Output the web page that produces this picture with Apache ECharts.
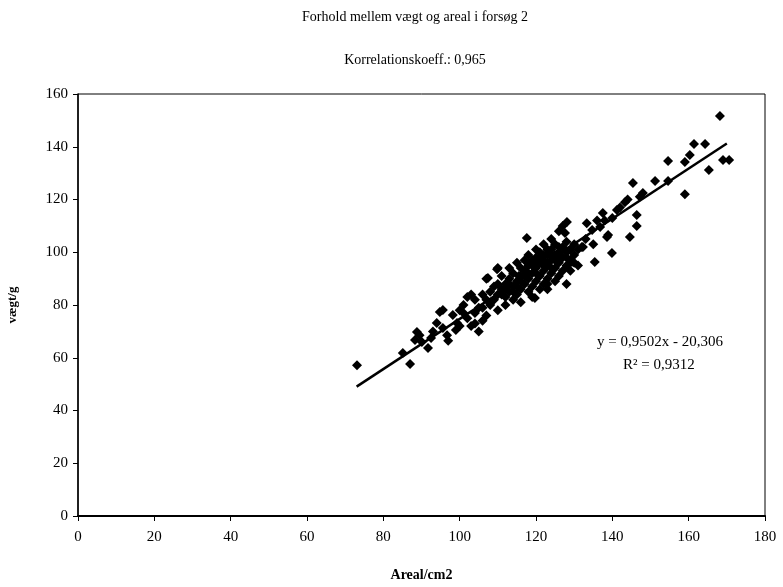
<!DOCTYPE html>
<html>
<head>
<meta charset="utf-8">
<script src="https://cdn.jsdelivr.net/npm/echarts@6/dist/echarts.min.js"></script>
<style>html,body{margin:0;padding:0;background:#fff}#c{width:783px;height:587px}</style>
</head>
<body>
<div id="c"></div>
<script>
const titleText = "Forhold mellem vægt og areal i forsøg 2";
const subtitleText = "Korrelationskoeff.: 0,965";
const xAxisName = "Areal/cm2";
const yAxisName = "vægt/g";
const equationText = "y = 0,9502x - 20,306";
const r2Text = "R² = 0,9312";
const slope = 0.9502;
const intercept = -20.306;
const trendRange = [73, 170];

const lowPoints = [
  [73.1,57.2],[85.1,61.8],[87.0,57.6],[88.3,66.7],[88.8,69.8],[90.1,66],[91.7,63.7],
  [94,73.2],[94.8,77.3],[95.6,71.3],[97,66.4],[98.2,76.2],[99.3,73.2],[95.6,78.1],
  [89.5,68.5],[92.5,67.5],[99,70.5],[100,72],[96.7,68.5],[93,70]
];
const midLowPoints = [
  [100,78],[101,80],[102,75],[103,72],[104,82],[105,79],[106,84],[107,76],[108,85],
  [103,84],[105,70],[106,74],[108,80],[109,82],[110,78],[107,90],[110,94],[101,77],
  [104,77],[102,83],[106,79],[109,87],[104,73],[107,82]
];
const densePoints = [
  [110,84],[110,88],[111,86],[111,91],[112,83],[112,88],[112,80],[113,85],[113,90],[113,94],
  [114,82],[114,87],[114,92],[115,84],[115,89],[115,96],[116,86],[116,91],[116,94],[116,81],
  [117,88],[117,93],[117,97],[118,85],[118,90],[118,95],[118,99],[119,87],[119,92],[119,97],
  [119,83],[120,89],[120,94],[120,98],[120,101],[121,86],[121,91],[121,96],[121,100],[122,88],
  [122,93],[122,97],[122,103],[123,90],[123,95],[123,99],[123,86],[124,92],[124,97],[124,101],
  [124,105],[125,89],[125,94],[125,99],[125,103],[126,91],[126,96],[126,100],[126,108],[127,93],
  [127,98],[127,102],[127,110],[128,95],[128,100],[128,104],[128,88],[129,97],[129,101],[129,93],
  [130,99],[130,103],[130,96],[131,101],[131,95],[132,102],[119.7,82.7],[117.6,105.4],[109.8,93.6],
  [107.4,90.2],[128.1,111.5],[127.6,107.3],[115.5,91],[129.4,96.3],[123,88],[111,84],[113,88],
  [115,87],[117,91],[119,95],[121,98],[123,101],[125,97],[120,92],[122,95],[124,94],[126,98],
  [118,92],[116,89],[114,85],[112,86],[120,96],[122,99],[124,99],[126,102],[128,98]
];
const highPoints = [
  [132.3,102],[133.3,111],[134.7,108.4],[136.8,109.6],[137.5,114.9],[138.6,105.8],[139.9,99.7],
  [135.4,96.3],[138,112],[138.9,106.5],[141.2,116],[143.3,119],[144.6,105.8],[146.4,114.1],
  [146.4,110],[145.4,126.3],[147.2,121],[148,122.5],[151.2,127],[154.6,127],[154.6,134.6],
  [159,122],[159,134.2],[160.3,136.9],[161.4,141],[164.3,141],[165.3,131.2],[168.2,151.7],
  [169,135],[170.6,135],[133,105],[135,103],[140,113],[142,117],[144,120],[136,112]
];
const xTicks = [0,20,40,60,80,100,120,140,160,180];
const yTicks = [0,20,40,60,80,100,120,140,160];

const allPoints = lowPoints.concat(midLowPoints, densePoints, highPoints);
const trendData = trendRange.map(x => [x, slope * x + intercept]);

const serif = "'Liberation Serif','DejaVu Serif',serif";
const chart = echarts.init(document.getElementById('c'));
chart.setOption({
  backgroundColor: '#fff',
  animation: false,
  title: [
    {text: titleText, left: 410, top: 5, textAlign: 'center',
     textStyle: {fontFamily: serif, fontSize: 14, fontWeight: 'normal', color: '#000'}},
    {text: subtitleText, left: 410, top: 48, textAlign: 'center',
     textStyle: {fontFamily: serif, fontSize: 14, fontWeight: 'normal', color: '#000'}}
  ],
  grid: {left: 78, right: 18, top: 94, bottom: 71, show: true, borderColor: '#000', borderWidth: 1,
         backgroundColor: 'transparent', containLabel: false, outerBoundsMode: 'none'},
  xAxis: {
    type: 'value', min: 0, max: 180, interval: 20,
    name: xAxisName, nameLocation: 'middle', nameGap: 52,
    nameTextStyle: {fontFamily: serif, fontSize: 14, fontWeight: 'bold', color: '#000'},
    axisLine: {lineStyle: {color: '#000', width: 2}},
    axisTick: {show: true, length: 5, lineStyle: {color: '#000'}},
    axisLabel: {fontFamily: serif, fontSize: 15, color: '#000', margin: 14,
      formatter: v => xTicks.includes(v) ? String(v) : ''},
    splitLine: {show: false}
  },
  yAxis: {
    type: 'value', min: 0, max: 160, interval: 20,
    name: yAxisName, nameLocation: 'middle', nameGap: 59, nameRotate: 90,
    nameTextStyle: {fontFamily: serif, fontSize: 13, fontWeight: 'bold', color: '#000'},
    axisLine: {show: true, lineStyle: {color: '#000', width: 1.5}},
    axisTick: {show: true, length: 5, lineStyle: {color: '#000'}},
    axisLabel: {fontFamily: serif, fontSize: 15, color: '#000', margin: 10,
      formatter: v => yTicks.includes(v) ? String(v) : ''},
    splitLine: {show: false}
  },
  series: [
    {type: 'scatter', data: allPoints, symbol: 'path://M0,-1L1,0L0,1L-1,0Z', symbolSize: 10,
     itemStyle: {color: '#000', opacity: 1}, z: 3},
    {type: 'line', data: trendData, symbol: 'none', lineStyle: {color: '#000', width: 2.5}, z: 4}
  ],
  graphic: [
    {type: 'text', left: 597, top: 335, style: {text: equationText, font: "15px " + serif, fill: '#000'}},
    {type: 'text', left: 623, top: 358, style: {text: r2Text, font: "15px " + serif, fill: '#000'}}
  ]
});
</script>
</body>
</html>
